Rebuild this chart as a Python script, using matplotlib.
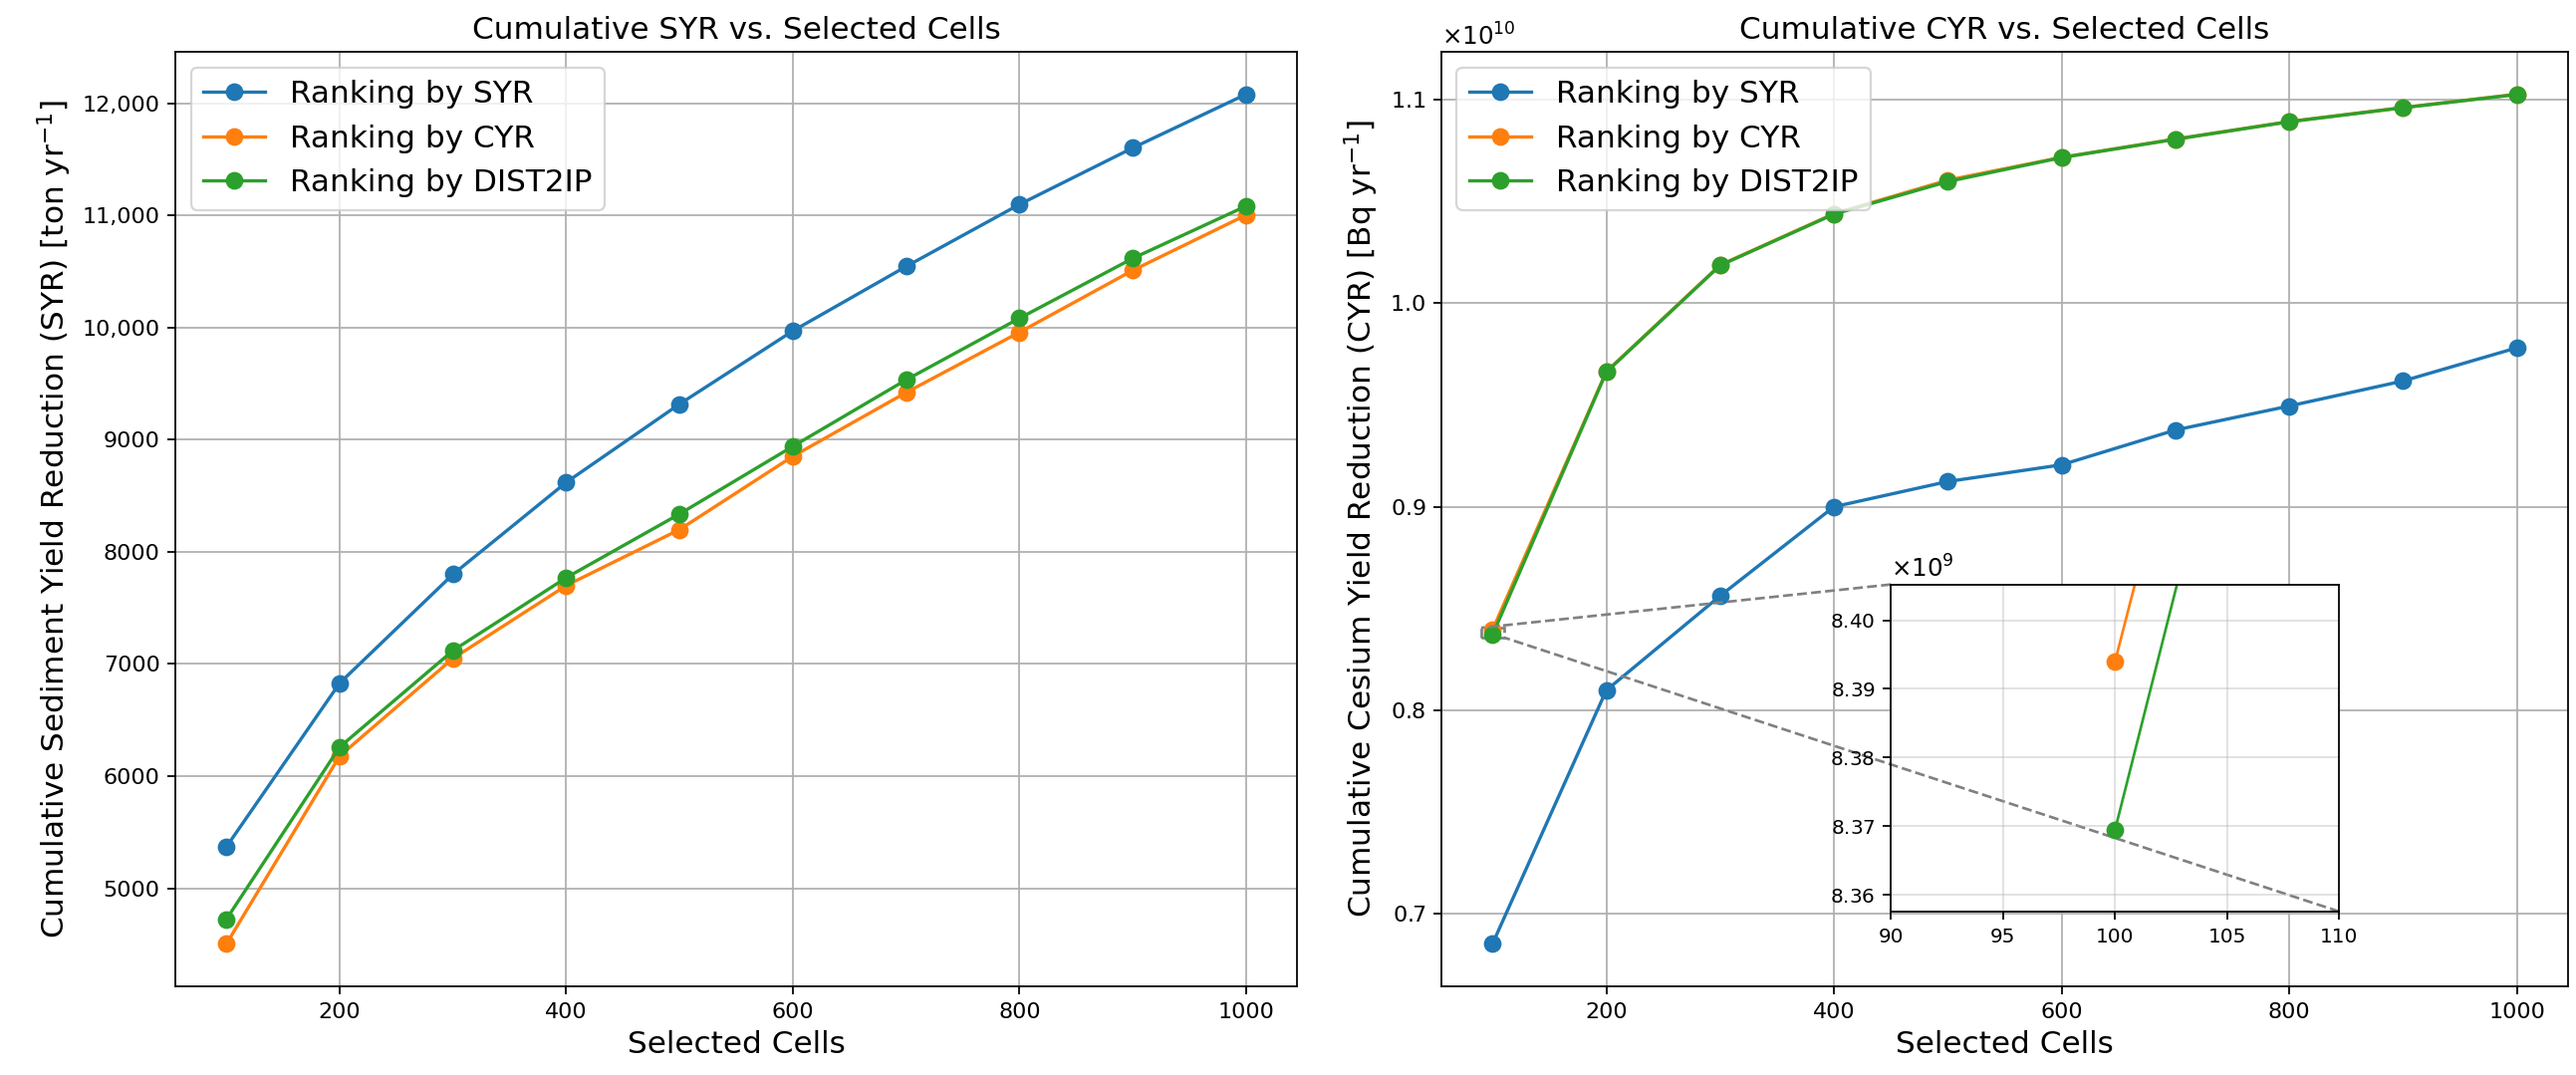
import matplotlib
matplotlib.use("Agg")
import matplotlib.pyplot as plt
from matplotlib.ticker import FuncFormatter, ScalarFormatter
from mpl_toolkits.axes_grid1.inset_locator import mark_inset

cells = [100, 200, 300, 400, 500, 600, 700, 800, 900, 1000]

# cumulative SYR [ton/yr]
syr_by_syr = [5370, 6830, 7800, 8620, 9318, 9970, 10545, 11098, 11602, 12080]
syr_by_cyr = [4505, 6180, 7050, 7700, 8199, 8852, 9421, 9958, 10510, 11003]
syr_by_dist = [4725, 6260, 7120, 7770, 8338, 8941, 9534, 10083, 10617, 11083]

# cumulative CYR [Bq/yr]
cyr_by_syr = [0.6852e10, 0.8098e10, 0.8562e10, 0.9000e10, 0.9124e10,
              0.9206e10, 0.9377e10, 0.9495e10, 0.9618e10, 0.9781e10]
cyr_by_cyr = [0.8394e10, 0.9664e10, 1.0188e10, 1.0440e10, 1.0605e10,
              1.0717e10, 1.0807e10, 1.0893e10, 1.0962e10, 1.1027e10]
cyr_by_dist = [0.83695e10, 0.9662e10, 1.0186e10, 1.0438e10, 1.0598e10,
               1.0716e10, 1.0806e10, 1.0892e10, 1.0961e10, 1.1026e10]

labels = ["Ranking by SYR", "Ranking by CYR", "Ranking by DIST2IP"]
colors = ["#1f77b4", "#ff7f0e", "#2ca02c"]


def draw_lines(ax, series, lw=1.5, ms=7, legend=True):
    for ys, lab, c in zip(series, labels, colors):
        ax.plot(cells, ys, marker="o", color=c, lw=lw, ms=ms, label=lab)
    if legend:
        ax.legend(loc="upper left", fontsize=14)


fig = plt.figure(figsize=(16.1625, 6.74375), dpi=160)

ax1 = fig.add_axes([0.0681, 0.0825, 0.4354, 0.8693])
draw_lines(ax1, [syr_by_syr, syr_by_cyr, syr_by_dist])
ax1.set_title("Cumulative SYR vs. Selected Cells", fontsize=14)
ax1.set_xlabel("Selected Cells", fontsize=14)
ax1.set_ylabel("Cumulative Sediment Yield Reduction (SYR) [ton yr$^{-1}$]", fontsize=14)
ax1.yaxis.set_major_formatter(
    FuncFormatter(lambda v, p: f"{v:,.0f}" if v >= 10000 else f"{v:.0f}"))
ax1.grid(True)

ax2 = fig.add_axes([0.5595, 0.0825, 0.4374, 0.8693])
draw_lines(ax2, [cyr_by_syr, cyr_by_cyr, cyr_by_dist])
ax2.set_title("Cumulative CYR vs. Selected Cells", fontsize=14)
ax2.set_xlabel("Selected Cells", fontsize=14)
ax2.set_ylabel("Cumulative Cesium Yield Reduction (CYR) [Bq yr$^{-1}$]", fontsize=14)
fmt = ScalarFormatter(useMathText=True)
fmt.set_powerlimits((0, 0))
ax2.yaxis.set_major_formatter(fmt)
ax2.yaxis.get_offset_text().set_fontsize(11)
ax2.grid(True)

# zoom on the first point
axins = ax2.inset_axes([0.399, 0.08, 0.398, 0.35])
draw_lines(axins, [cyr_by_syr, cyr_by_cyr, cyr_by_dist], lw=1.2, ms=7, legend=False)
axins.set_xlim(90, 110)
axins.set_ylim(8.3576e9, 8.4052e9)
axins.set_xticks([90, 95, 100, 105, 110])
fmt2 = ScalarFormatter(useMathText=True)
fmt2.set_powerlimits((0, 0))
axins.yaxis.set_major_formatter(fmt2)
axins.tick_params(labelsize=9)
axins.yaxis.get_offset_text().set_fontsize(11)
axins.grid(True, alpha=0.4)
mark_inset(ax2, axins, loc1=2, loc2=4, fc="none", ec="0.5", ls="--", lw=1.2)

fig.savefig("out.png", dpi=160)
